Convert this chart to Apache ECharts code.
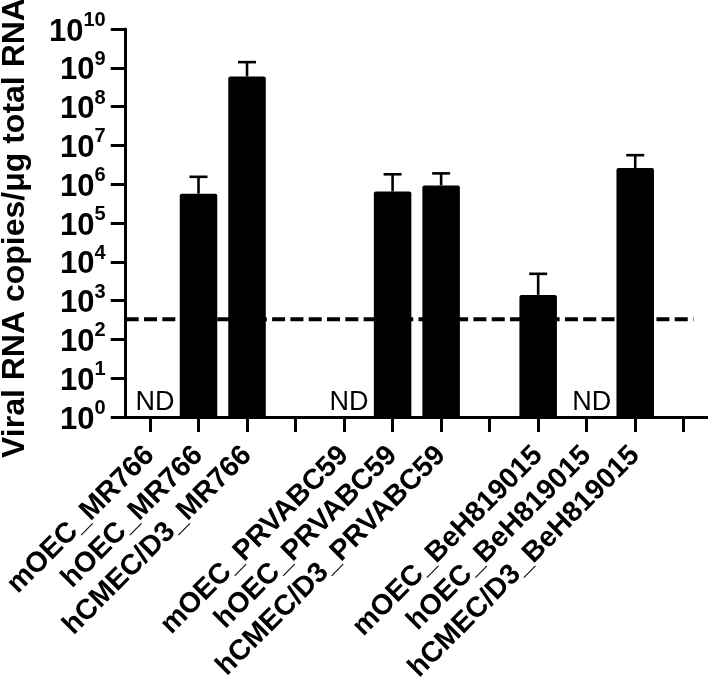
<!DOCTYPE html>
<html>
<head>
<meta charset="utf-8">
<script src="https://cdn.jsdelivr.net/npm/echarts@6/dist/echarts.min.js"></script>
<style>
  html, body { margin: 0; padding: 0; background: #fff; }
  #chart { width: 708px; height: 686px; }
</style>
</head>
<body>
<div id="chart"></div>
<script>
// ---- data ----
const categories = ['mOEC_MR766', 'hOEC_MR766', 'hCMEC/D3_MR766', ' ',
  'mOEC_PRVABC59', 'hOEC_PRVABC59', 'hCMEC/D3_PRVABC59', '  ',
  'mOEC_BeH819015', 'hOEC_BeH819015', 'hCMEC/D3_BeH819015', '   '];
const meanValues = [null, 5.7e5, 6.0e8, null, null, 6.5e5, 9.3e5, null, 1.4e3, null, 2.6e6, null];
const errorUpper = [null, 1.55e6, 1.4e9, null, null, 1.8e6, 1.9e6, null, 4.9e3, null, 5.6e6, null];
const ndCategories = ['mOEC_MR766', 'mOEC_PRVABC59', 'hOEC_BeH819015'];
const detectionLimit = 330;
const detectionLineExtent = [0, 11.7];
const yAxisTitle = 'Viral RNA copies/\u03bcg total RNA';
const yMin = 1, yMax = 1e10;

const FONT = 'Liberation Sans, Arial, sans-serif';
const chart = echarts.init(document.getElementById('chart'), null, { renderer: 'canvas' });

const errData = [];
meanValues.forEach((v, i) => { if (v != null) errData.push([i, v, errorUpper[i]]); });
const ndData = ndCategories.map(c => [categories.indexOf(c), yMin]);

const option = {
  animation: false,
  backgroundColor: '#fff',
  grid: { left: 122, right: 0, top: 29, bottom: 269, containLabel: false },
  xAxis: [{
    type: 'category',
    data: categories,
    boundaryGap: true,
    axisLine: { show: true, lineStyle: { color: '#000', width: 3 } },
    axisTick: { show: true, alignWithLabel: true, interval: 0, length: 15, inside: false, lineStyle: { color: '#000', width: 3 } },
    axisLabel: {
      interval: 0, rotate: 45, margin: 34,
      color: '#000', fontFamily: FONT, fontWeight: 'bold', fontSize: 28.5
    },
    splitLine: { show: false }
  }, {
    type: 'value', min: 0, max: categories.length, show: false
  }],
  yAxis: {
    type: 'log', logBase: 10, min: yMin, max: yMax, interval: 1, splitNumber: 10,
    axisLine: { show: true, lineStyle: { color: '#000', width: 3 } },
    axisTick: { show: true, length: 15, lineStyle: { color: '#000', width: 3 } },
    splitLine: { show: false },
    axisLabel: {
      margin: 20, showMinLabel: true, showMaxLabel: true, hideOverlap: false,
      color: '#000', fontFamily: FONT, fontWeight: 'bold', fontSize: 28,
      formatter: v => '{b|10}{s|' + Math.round(Math.log10(v)) + '}',
      rich: {
        b: { fontFamily: FONT, fontWeight: 'bold', fontSize: 31, color: '#000', lineHeight: 37, verticalAlign: 'bottom' },
        s: { fontFamily: FONT, fontWeight: 'bold', fontSize: 20, color: '#000', lineHeight: 20, verticalAlign: 'top' }
      }
    }
  },
  graphic: [{
    type: 'text', x: 15.5, y: 228, rotation: Math.PI / 2,
    style: { text: yAxisTitle, font: 'bold 32px ' + FONT, fill: '#000', align: 'center', verticalAlign: 'middle' }
  }],
  series: [{
    type: 'bar',
    data: meanValues,
    barWidth: 37.5,
    itemStyle: { color: '#000', borderRadius: [2, 2, 0, 0] },
    z: 2
  }, {
    type: 'custom',
    data: errData,
    z: 3,
    renderItem: (params, api) => {
      const i = api.value(0);
      const p0 = api.coord([i, api.value(1)]);
      const p1 = api.coord([i, api.value(2)]);
      const hw = 9;
      const st = { stroke: '#000', lineWidth: 2.6 };
      return {
        type: 'group',
        children: [
          { type: 'line', shape: { x1: p0[0], y1: p0[1], x2: p1[0], y2: p1[1] }, style: st },
          { type: 'line', shape: { x1: p1[0] - hw, y1: p1[1], x2: p1[0] + hw, y2: p1[1] }, style: st }
        ]
      };
    }
  }, {
    type: 'custom',
    data: ndData,
    z: 4,
    renderItem: (params, api) => {
      const p = api.coord([api.value(0), api.value(1)]);
      return {
        type: 'text',
        x: p[0] + 5, y: p[1] - 1,
        style: { text: 'ND', font: '27px ' + FONT, fill: '#000', align: 'center', verticalAlign: 'bottom' }
      };
    }
  }, {
    type: 'line',
    xAxisIndex: 1,
    data: detectionLineExtent.map(x => [x, detectionLimit]),
    symbol: 'none',
    lineStyle: { color: '#000', width: 4, type: [13, 5.3] },
    z: 1
  }]
};
chart.setOption(option);
</script>
</body>
</html>
